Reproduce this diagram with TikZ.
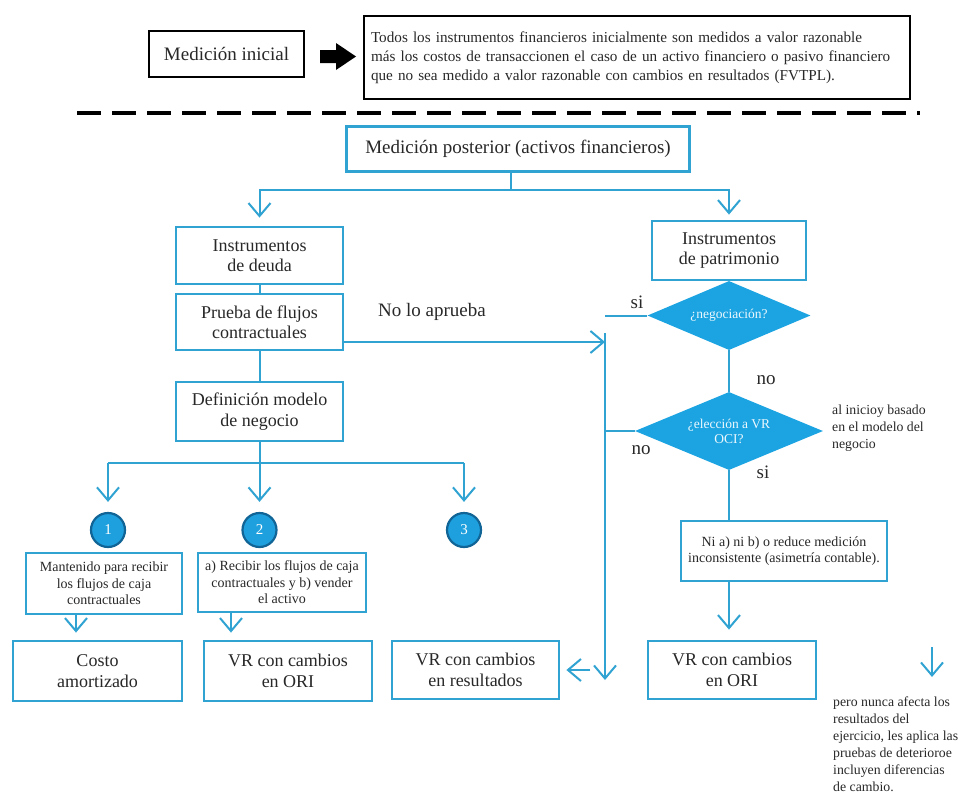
\documentclass[tikz,border=0pt]{standalone}
\usepackage{fontspec}
\setmainfont{Liberation Serif}
\usetikzlibrary{arrows.meta,shapes.geometric}
\definecolor{bl}{RGB}{48,163,210}
\definecolor{dfill}{RGB}{27,163,226}
\definecolor{cfill}{RGB}{30,160,222}
\definecolor{cdark}{RGB}{16,100,150}
\definecolor{txt}{RGB}{40,40,40}
\tikzset{
 bbox/.style={draw=bl, line width=2.8pt, fill=white, align=center, inner sep=2pt,
   font=\fontsize{18}{20.5}\selectfont, text=txt},
 sbox/.style={bbox, font=\fontsize{14}{16.5}\selectfont},
 blk/.style={draw=black, line width=2.4pt, text=txt},
 dia/.style={diamond, fill=dfill, draw=none, inner sep=0pt},
 dtext/.style={text=white!92!dfill, font=\fontsize{13.5}{15}\selectfont, align=center, inner sep=0pt},
 conn/.style={draw=bl, line width=2pt},
 arr/.style={conn, -{Straight Barb[length=13pt,width=22pt,line width=2pt]}},
 num/.style={circle, fill=cfill, draw=cdark, line width=2.2pt, minimum size=34pt,
   inner sep=0pt, text=white, font=\fontsize{15}{15}\selectfont},
 lbl/.style={text=txt, font=\fontsize{19}{20}\selectfont, inner sep=0pt},
 note/.style={align=left, text=txt, font=\fontsize{13.8}{17}\selectfont,
   anchor=north west, inner sep=0pt},
}
\begin{document}
\begin{tikzpicture}[x=1pt,y=-1pt]
\useasboundingbox (0,0) rectangle (962,798);
% top part
\node[blk, minimum width=155pt, minimum height=46pt, font=\fontsize{19}{20}\selectfont] (mi) at (226.5,54) {Medición inicial};
\node[blk, minimum width=546pt, minimum height=83pt, align=left, text width=532pt,
  font=\fontsize{15.2}{19}\selectfont] (tb) at (637,57.5)
  {Todos los instrumentos financieros inicialmente son medidos a valor razonable\\
   más los costos de transaccionen el caso de un activo financiero o pasivo financiero\\
   que no sea medido a valor razonable con cambios en resultados (FVTPL).};
\fill[black] (320,50) -- (336,50) -- (336,43) -- (356,56.5) -- (336,70) -- (336,63) -- (320,63) -- cycle;
\coordinate (dl) at (77,113);
\coordinate (dr) at (920,113);
\draw[line width=4pt, dash pattern=on 24pt off 11pt] (dl) -- (dr);
% flow nodes
\node[bbox, minimum width=343pt, minimum height=45pt, font=\fontsize{19}{20}\selectfont] (mp) at (518,149) {Medición posterior (activos financieros)};
\node[bbox, minimum width=167pt, minimum height=57pt] (id) at (259.5,255.5) {Instrumentos\\de deuda};
\node[bbox, minimum width=167pt, minimum height=56pt] (pf) at (259.5,322) {Prueba de flujos\\contractuales};
\node[bbox, minimum width=167pt, minimum height=59pt] (dm) at (259.5,411.5) {Definición modelo\\de negocio};
\node[bbox, minimum width=154pt, minimum height=59pt] (ip) at (729,250.5) {Instrumentos\\de patrimonio};
\node[dia, minimum width=163pt, minimum height=69pt, label={[dtext]center:{¿negociación?}}] (d1) at (729,315.5) {};
\node[dia, minimum width=188pt, minimum height=78pt, label={[dtext]center:{¿elección a VR\\OCI?}}] (d2) at (729,431) {};
\node[sbox, minimum width=206pt, minimum height=60pt] (na) at (784,551) {Ni a) ni b) o reduce medición\\inconsistente (asimetría contable).};
\node[bbox, minimum width=168pt, minimum height=58pt] (vo) at (732,670) {VR con cambios\\en ORI};
\node[bbox, minimum width=167pt, minimum height=58pt] (vr) at (475.5,670) {VR con cambios\\en resultados};
\node[num] (n1) at (108,530) {1};
\node[num] (n2) at (259.5,530) {2};
\node[num] (n3) at (464,530) {3};
\node[sbox, minimum width=156pt, minimum height=61pt] (m1) at (104,583.5) {Mantenido para recibir\\los flujos de caja\\contractuales};
\node[sbox, minimum width=168pt, minimum height=59pt] (m2) at (282,582.5) {a) Recibir los flujos de caja\\contractuales y b) vender\\el activo};
\node[bbox, minimum width=169pt, minimum height=60pt] (ca) at (97.5,671) {Costo\\amortizado};
\node[bbox, minimum width=168pt, minimum height=60pt] (vl) at (288,671) {VR con cambios\\en ORI};
% labels
\node[lbl] (nla) at (432,312) {No lo aprueba};
\node[lbl] (si1) at (637,302) {si};
\node[lbl] (no1) at (766,380) {no};
\node[lbl] (no2) at (641,450) {no};
\node[lbl] (si2) at (763,472) {si};
\node[note] (nt1) at (832,405) {al inicioy basado\\en el modelo del\\negocio};
\node[note] (nt2) at (833,697) {pero nunca afecta los\\resultados del\\ejercicio, les aplica las\\pruebas de deterioroe\\incluyen diferencias\\de cambio.};
% connectors
\coordinate (j0) at (511,190);
\draw[conn] (mp.south -| j0) -- (j0);
\draw[arr, shorten >=8pt] (j0) -| (id.north);
\draw[arr, shorten >=5pt] (j0) -| (ip.north);
\draw[conn] (id) -- (pf);
\draw[conn] (pf) -- (dm);
\coordinate (vt) at (605,333);
\coordinate (vb) at (605,680);
\draw[arr] (vt) -- (vb);
\draw[arr] ([yshift=-20pt]pf.east) -- ([yshift=-20pt]pf.east -| vt);
\draw[conn] (d1.west) -- ++(-42,0);
\draw[conn] (d1.south) -- (d2.north);
\draw[conn] (d2.west) -- (d2.west -| vt);
\draw[conn] (d2.south) -- (d2.south |- na.north);
\draw[arr, shorten >=10pt] (d2.south |- na.south) -- (d2.south |- vo.north);
\coordinate (ha) at (590,670);
\draw[arr, shorten >=6pt] (ha) -- (ha -| vr.east);
\coordinate (sa1) at (932,647);
\coordinate (sa2) at (932,677);
\draw[arr] (sa1) -- (sa2);
\coordinate (bj) at (259.5,463);
\draw[conn] (dm.south) -- (bj);
\draw[conn] (n1 |- bj) -- (n3 |- bj);
\draw[arr, shorten >=10pt] (n1 |- bj) -- (n1.north);
\draw[arr, shorten >=10pt] (n2 |- bj) -- (n2.north);
\draw[arr, shorten >=10pt] (n3 |- bj) -- (n3.north);
\draw[arr, shorten >=7pt] ([xshift=-28pt]m1.south) -- ([xshift=-28pt]m1.south |- ca.north);
\draw[arr, shorten >=7pt] ([xshift=-51pt]m2.south) -- ([xshift=-51pt]m2.south |- vl.north);
\end{tikzpicture}
\end{document}
